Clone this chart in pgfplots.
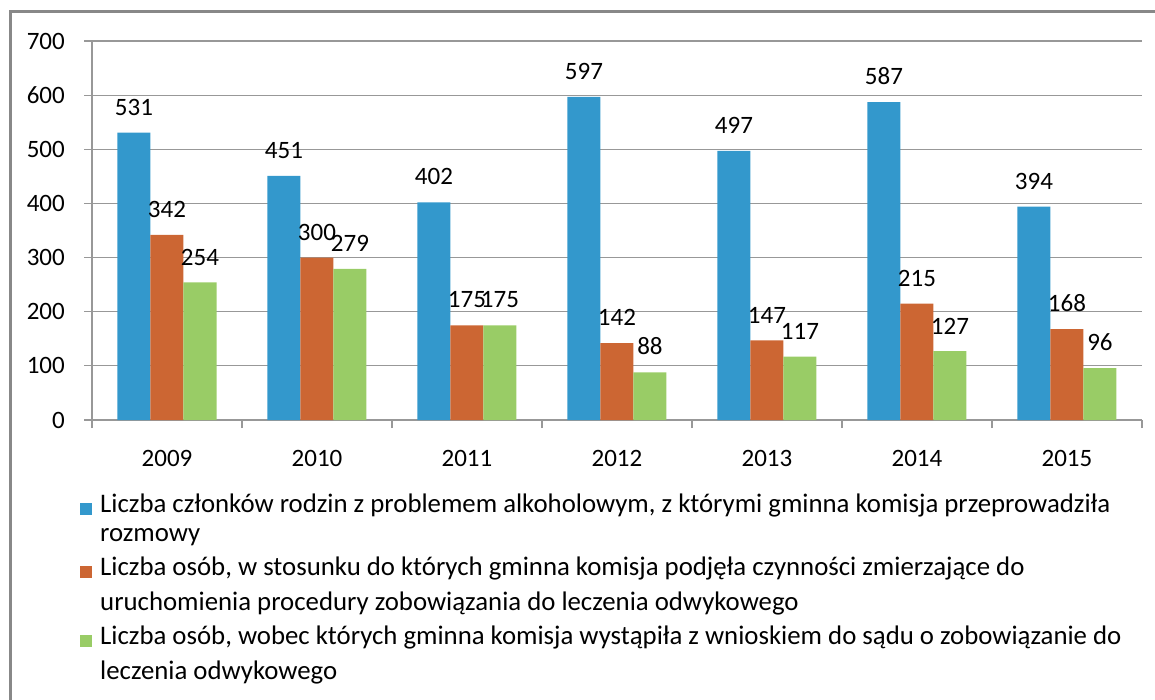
\documentclass[border=0pt]{standalone}
\usepackage{fontspec}
\setmainfont{Carlito}
\usepackage{pgfplots}
\pgfplotsset{compat=1.18}
\definecolor{cblue}{RGB}{51,152,204}
\definecolor{corange}{RGB}{204,102,51}
\definecolor{cgreen}{RGB}{153,204,102}
\definecolor{gridc}{RGB}{152,152,152}
\definecolor{framec}{RGB}{136,136,136}
\newcommand{\cf}{\fontsize{25}{30}\selectfont}
\newcommand{\lf}{\fontsize{26.8}{30}\selectfont}
\pgfplotsset{sqlegend/.style={legend image code/.code={\fill[##1] (0pt,-2pt) rectangle (12pt,10pt);}}}
\begin{document}
\begin{tikzpicture}
\useasboundingbox (0pt,0pt) rectangle (1155pt,-700pt);
\begin{scope}
\clip (0pt,0pt) rectangle (1155pt,-700pt);
\draw[line width=3pt, framec] (10pt,-12pt) rectangle (1175pt,-720pt);
\end{scope}
\begin{axis}[
  at={(92pt,-420pt)}, anchor=south west,
  scale only axis, width=1050pt, height=379pt,
  xmin=-0.5, xmax=6.5, ymin=0, ymax=700,
  ybar=0pt, bar width=33pt,
  axis lines=left, axis line style={-, gridc, line width=1.2pt},
  ymajorgrids, grid style={gridc, line width=1.2pt},
  ytick={0,100,...,700},
  xtick={0,...,6},
  xticklabels={2009,2010,2011,2012,2013,2014,2015},
  minor xtick={-0.5,0.5,...,6.5},
  tick align=outside,
  major tick length=8pt, minor tick length=8pt,
  major x tick style={draw=none},
  tick style={gridc, line width=1.2pt},
  /pgf/number format/assume math mode=true,
  ticklabel style={font=\cf, text=black, inner sep=0pt},
  yticklabel style={anchor=east, xshift=-19pt},
  xticklabel style={anchor=north, yshift=-22pt},
  nodes near coords,
  nodes near coords style={font=\cf, text=black, anchor=south, inner sep=0pt, yshift=17pt},
  clip=false,
  legend style={at={(-0.01143,-0.195)}, anchor=north west, draw=none, fill=none,
    font=\lf, row sep=14pt, column sep=8pt, inner sep=0pt,
    nodes={inner sep=0pt, anchor=base west}},
  legend cell align=left,
]
\addplot[fill=cblue, draw=none, sqlegend, bar shift=-33pt] coordinates {(0,531) (1,451) (2,402) (3,597) (4,497) (5,587) (6,394)};
\addlegendentry{Liczba członków rodzin z problemem alkoholowym, z którymi gminna komisja przeprowadziła}
\addlegendimage{empty legend}
\addlegendentry{rozmowy}
\addplot[fill=corange, draw=none, sqlegend, bar shift=0pt] coordinates {(0,342) (1,300) (2,175) (3,142) (4,147) (5,215) (6,168)};
\addlegendentry{Liczba osób, w stosunku do których gminna komisja podjęła czynności zmierzające do}
\addlegendimage{empty legend}
\addlegendentry{uruchomienia procedury zobowiązania do leczenia odwykowego}
\addplot[fill=cgreen, draw=none, sqlegend, bar shift=33pt] coordinates {(0,254) (1,279) (2,175) (3,88) (4,117) (5,127) (6,96)};
\addlegendentry{Liczba osób, wobec których gminna komisja wystąpiła z wnioskiem do sądu o zobowiązanie do}
\addlegendimage{empty legend}
\addlegendentry{leczenia odwykowego}
\end{axis}
\end{tikzpicture}
\end{document}
